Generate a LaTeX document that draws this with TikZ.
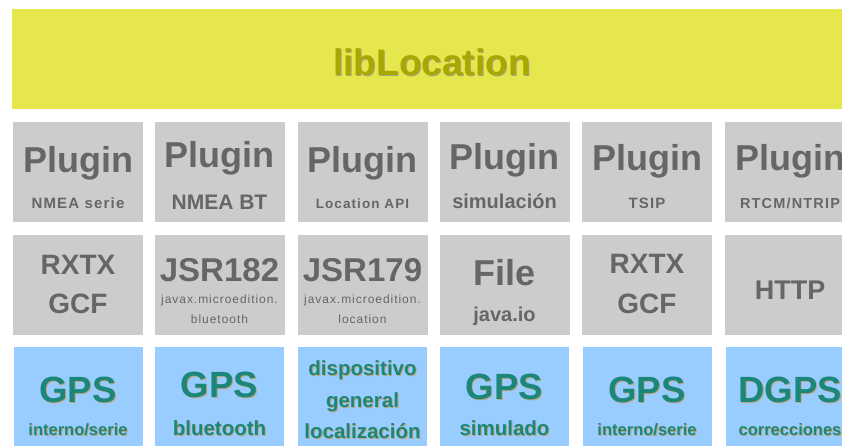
\documentclass[tikz,border=0pt]{standalone}
\usepackage{fontspec}
\setmainfont{Liberation Sans}
\newfontfamily\spacedfont[LetterSpace=8]{Liberation Sans}

\definecolor{libyellow}{HTML}{E6E64D}
\definecolor{olivetxt}{HTML}{A8A800}
\definecolor{oliveshadow}{HTML}{A6A67E}
\definecolor{boxgray}{HTML}{CCCCCC}
\definecolor{txtgray}{HTML}{666666}
\definecolor{boxblue}{HTML}{99CCFF}
\definecolor{tealtxt}{HTML}{1B877B}
\definecolor{tanshadow}{HTML}{BFA57A}

\newcommand\sz[1]{\fontsize{#1}{#1}\selectfont}
\newcommand\shadowed[2][tanshadow]{\rlap{\kern1pt\raisebox{-1pt}{\textcolor{#1}{#2}}}#2}

\begin{document}
\begin{tikzpicture}[x=1pt,y=-1pt,
  graybox/.style={fill=boxgray,minimum width=130pt,minimum height=100pt,inner sep=0pt},
  bluebox/.style={fill=boxblue,minimum width=129pt,minimum height=100pt,inner sep=0pt},
  gt/.style={anchor=base,inner sep=0pt,text=txtgray,font=\bfseries\sz{#1}},
  gs/.style={anchor=base,inner sep=0pt,text=txtgray,font=\spacedfont\bfseries\sz{#1}},
  gr/.style={anchor=base,inner sep=0pt,text=txtgray,font=\spacedfont\sz{#1}},
  bt/.style={anchor=base,inner sep=0pt,text=tealtxt,font=\bfseries\sz{#1}}]
\clip (0,0) rectangle (842,446);
% library on top
\node[fill=libyellow,minimum width=850pt,minimum height=100pt,inner sep=0pt] (lib) at (437,59) {};
\node[anchor=base,inner sep=0pt,text=olivetxt,font=\bfseries\sz{37}] (libt) at (432,76) {\shadowed[oliveshadow]{libLocation}};
% plugins, access layer, devices
\foreach \n/\x in {1/78,2/219.5,3/362.5,4/504.5,5/647,6/790}{
  \node[graybox] (p\n) at (\x,172) {};
  \node[graybox] (l\n) at (\x,285) {};
  \node[bluebox] (d\n) at (\x,397) {};
}
% plugin row
\node[gt=36] (p1a) at (78,173) {Plugin};
\node[gs=15] (p1b) at (78,209) {NMEA serie};
\node[gt=36] (p2a) at (219.5,168) {Plugin};
\node[gt=21] (p2b) at (219.5,210) {NMEA BT};
\node[gt=36] (p3a) at (362.5,173) {Plugin};
\node[gs=13.5] (p3b) at (362.5,209) {Location API};
\node[gt=36] (p4a) at (504.5,170) {Plugin};
\node[gt=20] (p4b) at (504.5,209) {simulación};
\node[gt=36] (p5a) at (647,171) {Plugin};
\node[gs=15] (p5b) at (647,209) {TSIP};
\node[gt=36] (p6a) at (790,171) {Plugin};
\node[gs=14.5] (p6b) at (790,209) {RTCM/NTRIP};
% access row
\node[gt=28] (l1a) at (78,274) {RXTX};
\node[gt=28] (l1b) at (78,313) {GCF};
\node[gt=33] (l2a) at (219.5,281) {JSR182};
\node[gr=12] (l2b) at (219.5,303) {javax.microedition.};
\node[gr=12] (l2c) at (219.5,323) {bluetooth};
\node[gt=33] (l3a) at (362.5,281) {JSR179};
\node[gr=12] (l3b) at (362.5,303) {javax.microedition.};
\node[gr=12] (l3c) at (362.5,323) {location};
\node[gt=36] (l4a) at (504.5,285) {File};
\node[gt=20] (l4b) at (504.5,321) {java.io};
\node[gt=28] (l5a) at (647,273) {RXTX};
\node[gt=28] (l5b) at (647,313) {GCF};
\node[gt=27] (l6a) at (790,299) {HTTP};
% device row
\node[bt=36.5] (d1a) at (78,402) {\shadowed{GPS}};
\node[bt=16.5] (d1b) at (78,435) {\shadowed{interno/serie}};
\node[bt=36.5] (d2a) at (219.5,397) {\shadowed{GPS}};
\node[bt=20.5] (d2b) at (219.5,435) {\shadowed{bluetooth}};
\node[bt=20.5] (d3a) at (362.5,375) {\shadowed{dispositivo}};
\node[bt=20.5] (d3b) at (362.5,407) {\shadowed{general}};
\node[bt=20.5] (d3c) at (362.5,438) {\shadowed{localización}};
\node[bt=36.5] (d4a) at (504.5,399) {\shadowed{GPS}};
\node[bt=20.5] (d4b) at (504.5,435) {\shadowed{simulado}};
\node[bt=36.5] (d5a) at (647,402) {\shadowed{GPS}};
\node[bt=16.5] (d5b) at (647,435) {\shadowed{interno/serie}};
\node[bt=36.5] (d6a) at (790,402) {\shadowed{DGPS}};
\node[bt=16.5] (d6b) at (790,435) {\shadowed{correcciones}};
\end{tikzpicture}
\end{document}
